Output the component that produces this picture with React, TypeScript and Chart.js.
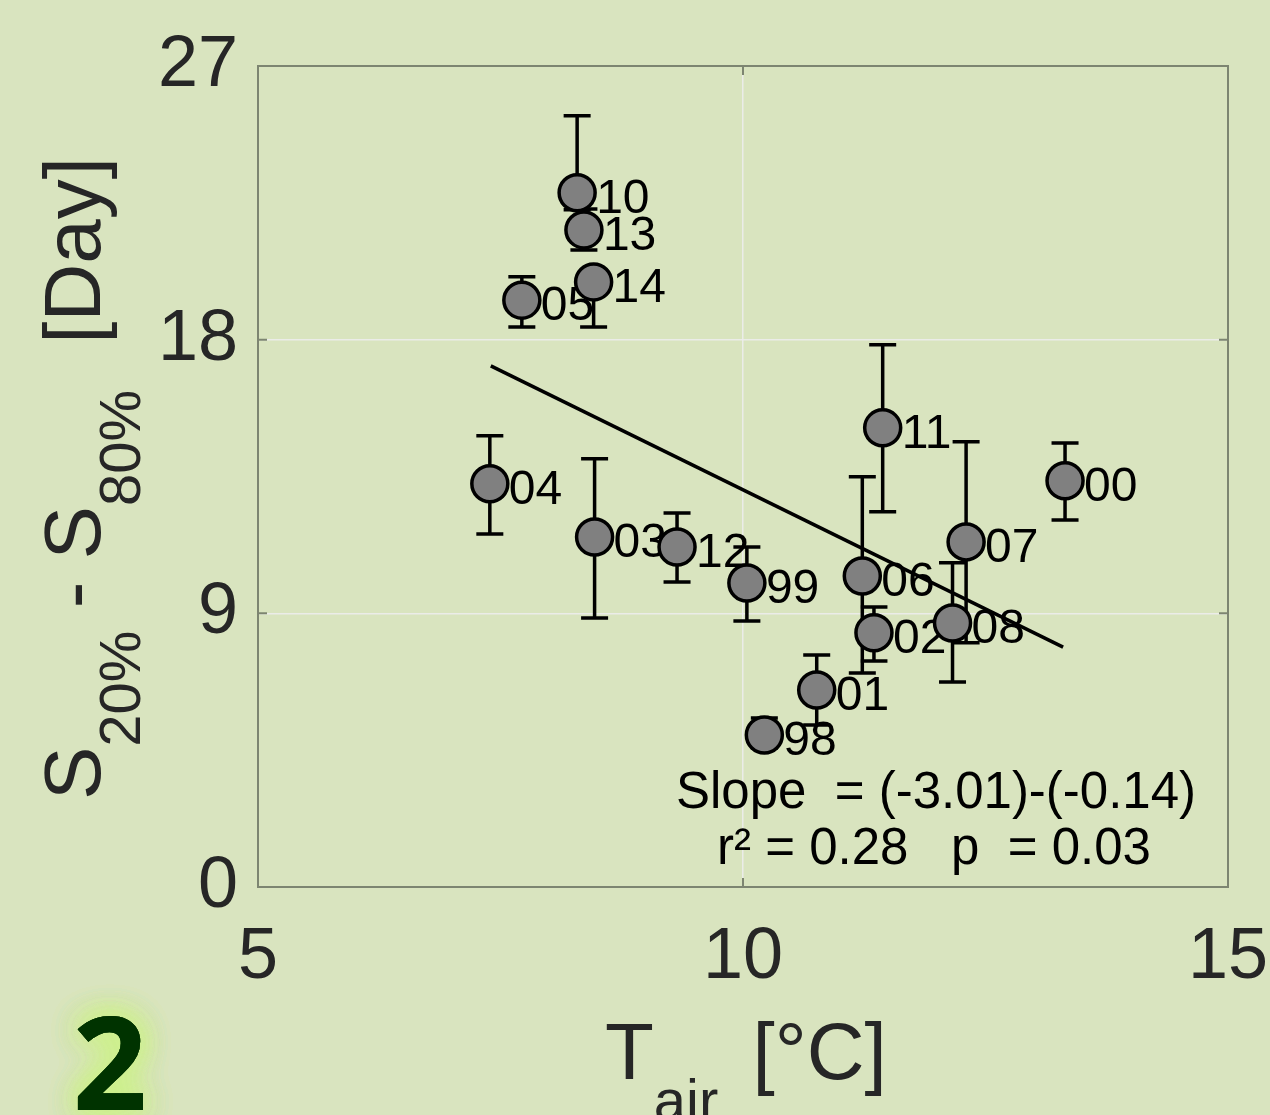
import React, { useEffect, useRef } from 'react';
import { Chart, registerables } from 'chart.js';

Chart.register(...registerables);

// ---- data ----
const years = ['98', '99', '00', '01', '02', '03', '04', '05', '06', '07', '08', '10', '11', '12', '13', '14'];
const airTemp = [10.22, 10.04, 13.32, 10.76, 11.35, 8.47, 7.39, 7.72, 11.23, 12.3, 12.16, 8.29, 11.44, 9.32, 8.36, 8.46];
const spread = [5.0, 10.0, 13.36, 6.48, 8.36, 11.51, 13.26, 19.3, 10.23, 11.35, 8.68, 22.83, 15.1, 11.18, 21.61, 19.9];
const spreadLow = [4.57, 8.75, 12.07, 5.33, 7.43, 8.85, 11.61, 18.42, 7.04, 8.03, 6.74, 22.27, 12.34, 10.03, 20.95, 18.42];
const spreadHigh = [5.56, 11.18, 14.6, 7.63, 9.21, 14.08, 14.84, 20.07, 13.49, 14.64, 10.66, 25.36, 17.83, 12.3, 22.3, 20.3];
const fitTemp = [7.4, 13.3];
const fitSpread = [17.14, 7.89];
const xTicks = [5, 10, 15];
const yTicks = [0, 9, 18, 27];
const statsLines = ['Slope  = (-3.01)-(-0.14)', 'r\u00B2 = 0.28   p  = 0.03'];
const panelLabel = '2';

const BG = '#d9e4bf';
const TEXT = '#262626';
const AXIS = '#7d8571';
const GRID = 'rgba(236,236,236,0.9)';
const FONT = '"Liberation Sans", Arial, sans-serif';

const decor = {
  id: 'decor',
  beforeDraw(chart: any) {
    const { ctx, width, height } = chart;
    ctx.save();
    ctx.fillStyle = BG;
    ctx.fillRect(0, 0, width, height);
    ctx.restore();
  },
  beforeDatasetsDraw(chart: any) {
    const { ctx, chartArea: a } = chart;
    const x = chart.scales.x;
    const y = chart.scales.y;
    ctx.save();
    // axis box
    ctx.strokeStyle = AXIS;
    ctx.lineWidth = 2;
    ctx.strokeRect(a.left, a.top, a.right - a.left, a.bottom - a.top);
    // inner ticks
    ctx.beginPath();
    xTicks.forEach((v) => {
      const px = x.getPixelForValue(v);
      ctx.moveTo(px, a.bottom);
      ctx.lineTo(px, a.bottom - 9);
      ctx.moveTo(px, a.top);
      ctx.lineTo(px, a.top + 9);
    });
    yTicks.forEach((v) => {
      const py = y.getPixelForValue(v);
      ctx.moveTo(a.left, py);
      ctx.lineTo(a.left + 9, py);
      ctx.moveTo(a.right, py);
      ctx.lineTo(a.right - 9, py);
    });
    ctx.stroke();
    // point labels
    ctx.fillStyle = '#000';
    ctx.font = `48px ${FONT}`;
    ctx.textAlign = 'left';
    ctx.textBaseline = 'alphabetic';
    years.forEach((yr, i) => {
      const px = x.getPixelForValue(airTemp[i]);
      const py = y.getPixelForValue(spread[i]);
      ctx.fillText(yr, px + 19, py + 20);
    });
    // error bars
    ctx.strokeStyle = '#000';
    ctx.lineWidth = 3.5;
    ctx.beginPath();
    years.forEach((_, i) => {
      const px = x.getPixelForValue(airTemp[i]);
      const lo = y.getPixelForValue(spreadLow[i]);
      const hi = y.getPixelForValue(spreadHigh[i]);
      ctx.moveTo(px, lo);
      ctx.lineTo(px, hi);
      ctx.moveTo(px - 13.5, lo);
      ctx.lineTo(px + 13.5, lo);
      ctx.moveTo(px - 13.5, hi);
      ctx.lineTo(px + 13.5, hi);
    });
    ctx.stroke();
    ctx.restore();
  },
  afterDraw(chart: any) {
    const { ctx } = chart;
    ctx.save();
    // stats
    ctx.fillStyle = '#000';
    ctx.font = `51px ${FONT}`;
    ctx.textAlign = 'center';
    ctx.textBaseline = 'alphabetic';
    ctx.fillText(statsLines[0], 936, 808);
    ctx.fillText(statsLines[1], 934, 864);

    // x title
    ctx.fillStyle = TEXT;
    ctx.textAlign = 'left';
    const main = `80px ${FONT}`;
    const sub = `58px ${FONT}`;
    let cx = 605;
    const xb = 1079;
    ctx.font = main;
    ctx.fillText('T', cx, xb);
    cx += ctx.measureText('T').width;
    ctx.font = sub;
    ctx.fillText('air', cx, xb + 41);
    cx += ctx.measureText('air').width + 12;
    ctx.font = main;
    ctx.fillText(' [\u00B0C]', cx, xb);

    // y title
    ctx.save();
    ctx.translate(100, 800);
    ctx.rotate(-Math.PI / 2);
    const parts: [string, boolean, number][] = [
      ['S', false, 0],
      ['20%', true, 0],
      [' - S', false, 0],
      ['80%', true, 24],
      [' [Day]', false, 0],
    ];
    let rx = 0;
    parts.forEach(([t, isSub, gap]) => {
      ctx.font = isSub ? sub : main;
      ctx.fillText(t, rx, isSub ? 40 : 0);
      rx += ctx.measureText(t).width + gap;
    });
    ctx.restore();

    // panel label
    ctx.font = `bold 130px "Open Sans", "Noto Sans", sans-serif`;
    ctx.textAlign = 'center';
    ctx.shadowColor = 'rgba(205,240,140,0.95)';
    ctx.shadowBlur = 30;
    ctx.fillStyle = '#003300';
    for (let k = 0; k < 4; k++) ctx.fillText(panelLabel, 110, 1110);
    ctx.shadowBlur = 0;
    ctx.fillText(panelLabel, 110, 1110);
    ctx.restore();
  },
};

export default function App() {
  const ref = useRef<HTMLCanvasElement | null>(null);
  useEffect(() => {
    if (!ref.current) return;
    const points = airTemp.map((t, i) => ({ x: t, y: spread[i] }));
    const fit = fitTemp.map((t, i) => ({ x: t, y: fitSpread[i] }));
    const chart = new Chart(ref.current, {
      type: 'scatter',
      data: {
        datasets: [
          {
            label: 'years',
            data: points,
            pointRadius: 18,
            pointBackgroundColor: '#808080',
            pointBorderColor: '#000',
            pointBorderWidth: 3.5,
            showLine: false,
            order: 0,
          },
          {
            label: 'fit',
            type: 'line',
            data: fit,
            borderColor: '#000',
            borderWidth: 3.5,
            pointRadius: 0,
            fill: false,
            order: 1,
          },
        ],
      } as any,
      options: {
        responsive: false,
        animation: false,
        devicePixelRatio: 1,
        layout: { padding: { top: 66, right: 42, left: 0, bottom: 0 } },
        plugins: { legend: { display: false }, tooltip: { enabled: false } },
        scales: {
          x: {
            type: 'linear',
            min: 5,
            max: 15,
            afterBuildTicks: (s: any) => {
              s.ticks = xTicks.map((v) => ({ value: v }));
            },
            afterFit: (s: any) => {
              s.height = 228;
              s.paddingLeft = 0;
              s.paddingRight = 0;
            },
            grid: {
              color: (c: any) => (c.tick && c.tick.value === 10 ? GRID : 'rgba(0,0,0,0)'),
              lineWidth: 1.5,
              drawTicks: false,
            },
            border: { display: false },
            ticks: {
              font: { size: 72, family: FONT },
              color: TEXT,
              padding: 28,
              maxRotation: 0,
              autoSkip: false,
            },
          },
          y: {
            type: 'linear',
            min: 0,
            max: 27,
            afterBuildTicks: (s: any) => {
              s.ticks = yTicks.map((v) => ({ value: v }));
            },
            afterFit: (s: any) => {
              s.width = 258;
              s.paddingTop = 0;
              s.paddingBottom = 0;
            },
            grid: {
              color: (c: any) =>
                c.tick && (c.tick.value === 9 || c.tick.value === 18) ? GRID : 'rgba(0,0,0,0)',
              lineWidth: 1.5,
              drawTicks: false,
            },
            border: { display: false },
            ticks: {
              font: { size: 72, family: FONT },
              color: TEXT,
              padding: 20,
              autoSkip: false,
            },
          },
        },
      } as any,
      plugins: [decor],
    });
    return () => chart.destroy();
  }, []);
  return (
    <div style={{ position: 'absolute', left: 0, top: 0, width: 1270, height: 1115, background: BG }}>
      <canvas ref={ref} width={1270} height={1115} style={{ display: 'block', width: 1270, height: 1115 }} />
    </div>
  );
}
